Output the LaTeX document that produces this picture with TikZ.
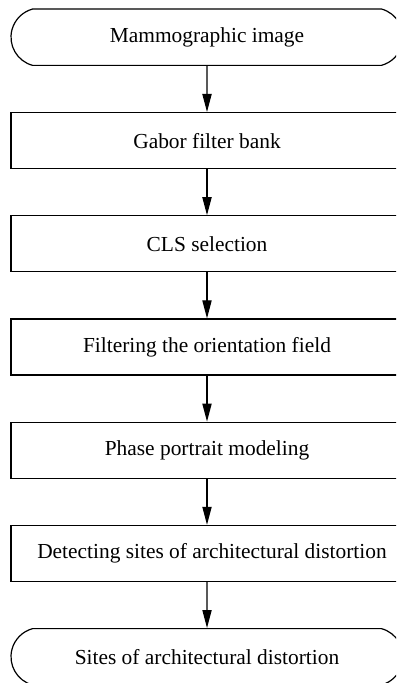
\documentclass[tikz,border=0pt]{standalone}
\usepackage{fontspec}
\setmainfont{Liberation Serif}
\usepackage{tikz}
\usetikzlibrary{positioning,shapes.misc,arrows.meta}

\begin{document}
\begin{tikzpicture}[
          every node/.style={font=\fontsize{10.7}{12}\selectfont},
          term/.style={rounded rectangle,rounded rectangle arc length=150,draw,line width=0.6pt,
                       minimum width=196pt,minimum height=28.2pt,inner sep=0pt},
          proc/.style={rectangle,draw,line width=0.6pt,
                       minimum width=196pt,minimum height=28pt,inner sep=0pt},
          flow/.style={-{Triangle[length=9pt,width=4.6pt]},line width=0.6pt},
          node distance=23pt,
        ]
        \clip (0,0) rectangle (198pt,-341.5pt);
        \node[term] (img) at (103.5pt,-18.6pt) {Mammographic image};
        \node[proc, below=of img] (gabor) {Gabor filter bank};
        \node[proc, below=of gabor] (cls) {CLS selection};
        \node[proc, below=of cls] (filt) {Filtering the orientation field};
        \node[proc, below=of filt] (phase) {Phase portrait modeling};
        \node[proc, below=of phase] (detect) {\hspace*{5pt}Detecting sites of architectural distortion};
        \node[term, below=of detect] (sites) {Sites of architectural distortion};
        \foreach \a/\b in {img/gabor, gabor/cls, cls/filt, filt/phase, phase/detect, detect/sites} {
          \draw[flow] (\a) -- (\b);
        }
      \end{tikzpicture}
\end{document}
